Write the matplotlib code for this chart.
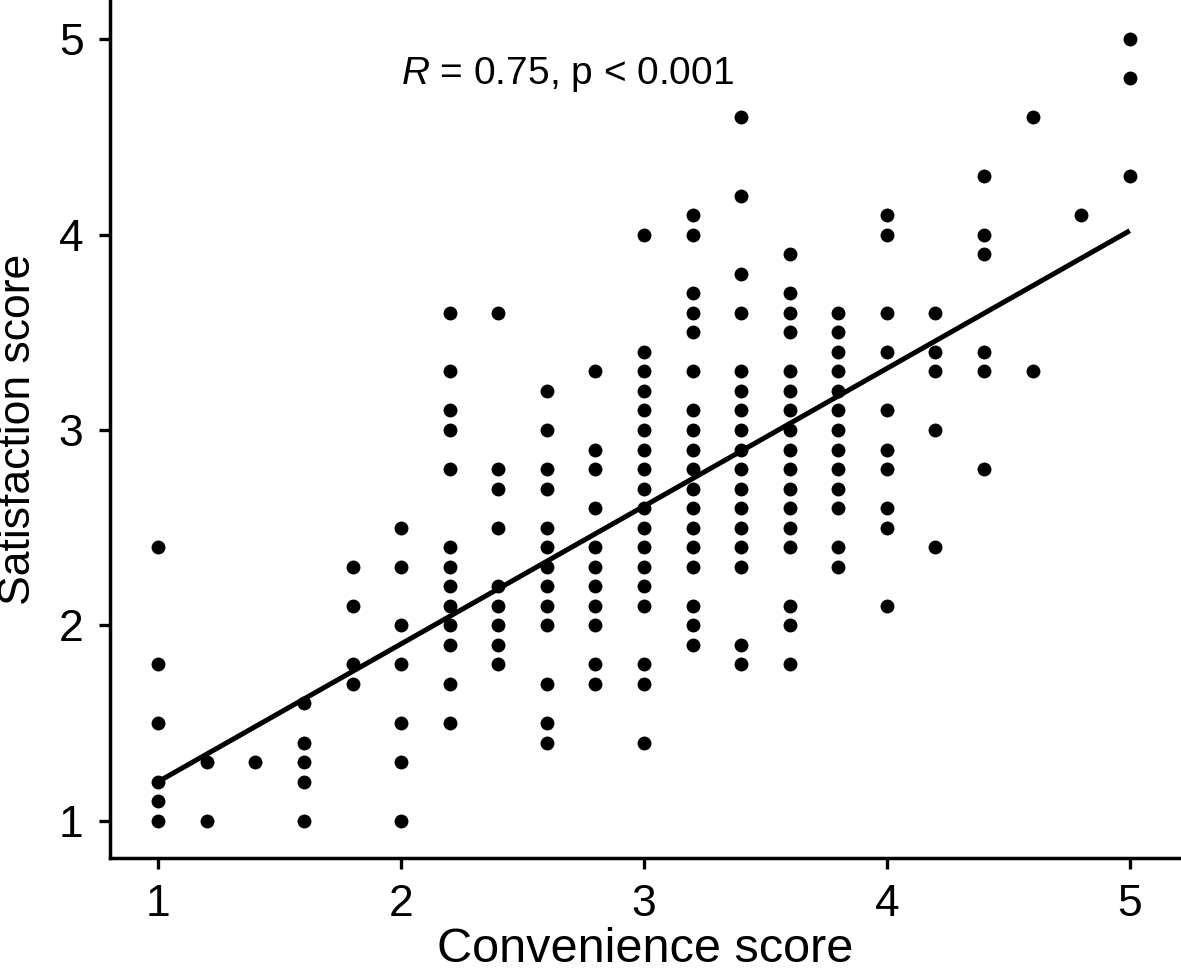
import matplotlib
matplotlib.use("Agg")
import matplotlib.pyplot as plt
import numpy as np

# Satisfaction scores, grouped by convenience score
convenience = [1.0, 1.2, 1.4, 1.6, 1.8, 2.0, 2.2, 2.4, 2.6, 2.8, 3.0,
               3.2, 3.4, 3.6, 3.8, 4.0, 4.2, 4.4, 4.6, 4.8, 5.0]
satisfaction = [
    [2.4, 1.8, 1.5, 1.2, 1.1, 1.0],
    [1.3, 1.0],
    [1.3],
    [1.6, 1.4, 1.3, 1.2, 1.0],
    [2.3, 2.1, 1.8, 1.7],
    [2.5, 2.3, 2.0, 1.8, 1.5, 1.3, 1.0],
    [3.6, 3.3, 3.1, 3.0, 2.8, 2.4, 2.3, 2.2, 2.1, 2.0, 1.9, 1.7, 1.5],
    [3.6, 2.8, 2.7, 2.5, 2.2, 2.1, 2.0, 1.9, 1.8],
    [3.2, 3.0, 2.8, 2.7, 2.5, 2.4, 2.3, 2.2, 2.1, 2.0, 1.7, 1.5, 1.4],
    [3.3, 2.9, 2.8, 2.6, 2.4, 2.3, 2.2, 2.1, 2.0, 1.8, 1.7],
    [4.0, 3.4, 3.3, 3.2, 3.1, 3.0, 2.9, 2.8, 2.7, 2.6, 2.5, 2.4, 2.3, 2.2,
     2.1, 1.8, 1.7, 1.4],
    [4.1, 4.0, 3.7, 3.6, 3.5, 3.3, 3.1, 3.0, 2.9, 2.8, 2.7, 2.6, 2.5, 2.4,
     2.3, 2.1, 2.0, 1.9],
    [4.6, 4.2, 3.8, 3.6, 3.3, 3.2, 3.1, 3.0, 2.9, 2.8, 2.7, 2.6, 2.5, 2.4,
     2.3, 1.9, 1.8],
    [3.9, 3.7, 3.6, 3.5, 3.3, 3.2, 3.1, 3.0, 2.9, 2.8, 2.7, 2.6, 2.5, 2.4,
     2.1, 2.0, 1.8],
    [3.6, 3.5, 3.4, 3.3, 3.2, 3.1, 3.0, 2.9, 2.8, 2.7, 2.6, 2.4, 2.3],
    [4.1, 4.0, 3.6, 3.4, 3.1, 2.9, 2.8, 2.6, 2.5, 2.1],
    [3.6, 3.4, 3.3, 3.0, 2.4],
    [4.3, 4.0, 3.9, 3.4, 3.3, 2.8],
    [4.6, 3.3],
    [4.1],
    [5.0, 4.8, 4.3],
]
# fitted line as drawn in the picture (many points overlap, so the
# visible dots alone do not give the same fit)
fit_intercept = 0.495
fit_slope = 0.705
x_ticks = [1, 2, 3, 4, 5]
y_ticks = [1, 2, 3, 4, 5]
stat_label = "$R$ = 0.75, p < 0.001"

x = np.concatenate([[c] * len(s) for c, s in zip(convenience, satisfaction)])
y = np.concatenate(satisfaction)

plt.rcParams["font.family"] = ["Liberation Sans", "DejaVu Sans"]
plt.rcParams["mathtext.fontset"] = "custom"
plt.rcParams["mathtext.rm"] = "Liberation Sans"
plt.rcParams["mathtext.it"] = "Liberation Sans:italic"

fig = plt.figure(figsize=(11.81, 9.72), dpi=100)
ax = fig.add_axes([0.0931, 0.1173, 0.9069, 0.8827])

ax.plot(x, y, "o", color="black", markersize=10, markeredgewidth=0)

xf = np.array([min(convenience), max(convenience)])
ax.plot(xf, fit_intercept + fit_slope * xf, color="black", linewidth=3.6,
        solid_capstyle="butt")

ax.text(2.0, 4.82, stat_label, fontsize=28, ha="left", va="center")

ax.set_xlim(0.801, 5.211)
ax.set_ylim(0.809, 5.201)
ax.set_xticks(x_ticks)
ax.set_yticks(y_ticks)
ax.tick_params(labelsize=32, width=2.4, length=8, pad=11, color="black")

for side in ["top", "right"]:
    ax.spines[side].set_visible(False)
for side in ["left", "bottom"]:
    ax.spines[side].set_linewidth(2.5)

ax.set_xlabel("Convenience score", fontsize=35, labelpad=1)
ax.set_ylabel("Satisfaction score", fontsize=32, labelpad=14)

fig.savefig("out.png", dpi=100)
